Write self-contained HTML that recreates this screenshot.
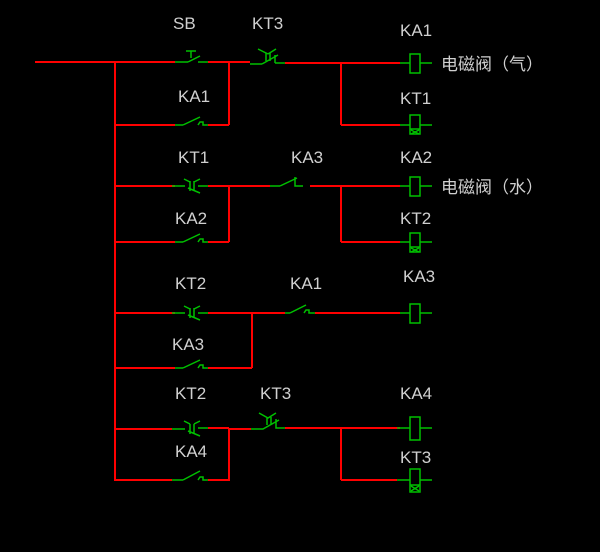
<!DOCTYPE html>
<html><head><meta charset="utf-8"><style>
html,body{margin:0;padding:0;background:#000;}
svg{display:block}
text{font-family:"Liberation Sans","Noto Sans CJK SC",sans-serif;fill:#d0d0d0;font-size:17px;}
</style></head><body>
<svg width="600" height="552" viewBox="0 0 600 552" xmlns="http://www.w3.org/2000/svg">
<g stroke="#ff0000" stroke-width="2" fill="none">
<polyline points="35,62 175,62"/>
<line x1="115" y1="62" x2="115" y2="481"/>
<line x1="208" y1="62" x2="250" y2="62"/>
<line x1="229" y1="62" x2="229" y2="125"/>
<line x1="115" y1="125" x2="175" y2="125"/>
<line x1="208" y1="125" x2="229" y2="125"/>
<line x1="285" y1="63" x2="400" y2="63"/>
<line x1="341" y1="63" x2="341" y2="125"/>
<line x1="341" y1="125" x2="400" y2="125"/>
<line x1="115" y1="186" x2="175" y2="186"/>
<line x1="208" y1="186" x2="270" y2="186"/>
<line x1="229" y1="186" x2="229" y2="242"/>
<line x1="115" y1="242" x2="175" y2="242"/>
<line x1="208" y1="242" x2="229" y2="242"/>
<line x1="310" y1="186" x2="400" y2="186"/>
<line x1="341" y1="186" x2="341" y2="242"/>
<line x1="341" y1="242" x2="400" y2="242"/>
<line x1="115" y1="313" x2="175" y2="313"/>
<line x1="208" y1="313" x2="285" y2="313"/>
<line x1="252" y1="313" x2="252" y2="368"/>
<line x1="115" y1="368" x2="175" y2="368"/>
<line x1="208" y1="368" x2="252" y2="368"/>
<line x1="315" y1="313" x2="400" y2="313"/>
<line x1="115" y1="429" x2="172" y2="429"/>
<line x1="208" y1="428" x2="229" y2="428"/>
<line x1="229" y1="429" x2="251" y2="429"/>
<line x1="229" y1="428" x2="229" y2="481"/>
<line x1="115" y1="480" x2="172" y2="480"/>
<line x1="208" y1="480" x2="229" y2="480"/>
<line x1="285" y1="428" x2="400" y2="428"/>
<line x1="341" y1="428" x2="341" y2="480"/>
<line x1="341" y1="480" x2="397" y2="480"/>
</g>
<g stroke="#00c000" stroke-width="1.5" fill="none">
<line x1="175" y1="62" x2="188" y2="62"/><line x1="188" y1="62" x2="200" y2="56"/><line x1="198" y1="62" x2="208" y2="62"/>
<line x1="186" y1="51" x2="196" y2="51"/><line x1="191" y1="51" x2="191" y2="58"/>
<line x1="250" y1="64" x2="262" y2="64"/><line x1="262" y1="64" x2="278" y2="55"/>
<line x1="266" y1="53" x2="266" y2="61"/><line x1="270" y1="53" x2="270" y2="61"/>
<line x1="258" y1="49" x2="268" y2="54"/><line x1="268" y1="54" x2="276" y2="49"/>
<line x1="275" y1="55" x2="275" y2="63"/><line x1="275" y1="63" x2="285" y2="63"/>
<line x1="175" y1="125" x2="183" y2="125"/><line x1="183" y1="125" x2="200" y2="117"/><path d="M198,125 l2,-3 h3 v3 h5"/>
<line x1="175" y1="242" x2="183" y2="242"/><line x1="183" y1="242" x2="200" y2="234"/><path d="M198,242 l2,-3 h3 v3 h5"/>
<line x1="175" y1="368" x2="183" y2="368"/><line x1="183" y1="368" x2="200" y2="360"/><path d="M198,368 l2,-3 h3 v3 h5"/>
<line x1="172" y1="480" x2="183" y2="480"/><line x1="183" y1="480" x2="200" y2="471"/><path d="M198,480 l2,-3 h3 v3 h5"/>
<line x1="270" y1="186" x2="280" y2="186"/><line x1="280" y1="186" x2="297" y2="178"/><path d="M295,177 v9 h8"/>
<line x1="285" y1="313" x2="290" y2="313"/><line x1="290" y1="313" x2="306" y2="305"/><path d="M304,313 l2,-3 h3 v3 h6"/>
<path d="M172,186 h13 M198,186 h10 M190,181 v10 M194,181 v10 M184,179 l6,3 M200,179 l-6,3 M188,188 l12,5"/>
<path d="M172,313 h13 M198,313 h10 M190,308 v10 M194,308 v10 M184,306 l6,3 M200,306 l-6,3 M188,315 l12,5"/>
<path d="M172,429 h13 M198,428 h10 M190,424 v10 M194,424 v10 M184,421 l6,3 M200,421 l-6,3 M188,431 l12,5"/>
<path d="M251,429 h12 l16,-9 M267,417 v8 M271,417 v8 M259,413 l9,5 l8,-5 M276,419 v9 h9"/>
<path d="M400,63 h10 M420,63 h12"/><rect x="410" y="54" width="10" height="19"/>
<path d="M400,125 h10 M420,125 h12"/><rect x="410" y="115" width="10" height="19"/><path d="M410,129 h10 M411,130 l8,4 M419,130 l-8,4"/>
<path d="M400,186 h10 M420,186 h12"/><rect x="410" y="177" width="10" height="19"/>
<path d="M400,242 h10 M420,242 h12"/><rect x="410" y="233" width="10" height="19"/><path d="M410,247 h10 M411,248 l8,4 M419,248 l-8,4"/>
<path d="M400,313 h10 M420,313 h12"/><rect x="410" y="304" width="10" height="19"/>
<path d="M397,428 h13 M420,428 h12"/><rect x="410" y="417" width="10" height="23"/>
<path d="M397,480 h13 M420,480 h12"/><rect x="410" y="469" width="10" height="23"/><path d="M410,485 h10 M411,486 l8,5 M419,486 l-8,5"/>
</g>
<g>
<text x="173" y="29">SB</text><text x="252" y="29">KT3</text><text x="400" y="36">KA1</text>
<text x="441" y="70">电磁阀（气）</text>
<text x="178" y="102">KA1</text><text x="400" y="104">KT1</text>
<text x="178" y="163">KT1</text><text x="291" y="163">KA3</text><text x="400" y="163">KA2</text>
<text x="441" y="193">电磁阀（水）</text>
<text x="175" y="224">KA2</text><text x="400" y="224">KT2</text>
<text x="175" y="289">KT2</text><text x="290" y="289">KA1</text><text x="403" y="282">KA3</text>
<text x="172" y="350">KA3</text>
<text x="175" y="399">KT2</text><text x="260" y="399">KT3</text><text x="400" y="399">KA4</text>
<text x="175" y="457">KA4</text><text x="400" y="463">KT3</text>
</g>
</svg>
</body></html>
